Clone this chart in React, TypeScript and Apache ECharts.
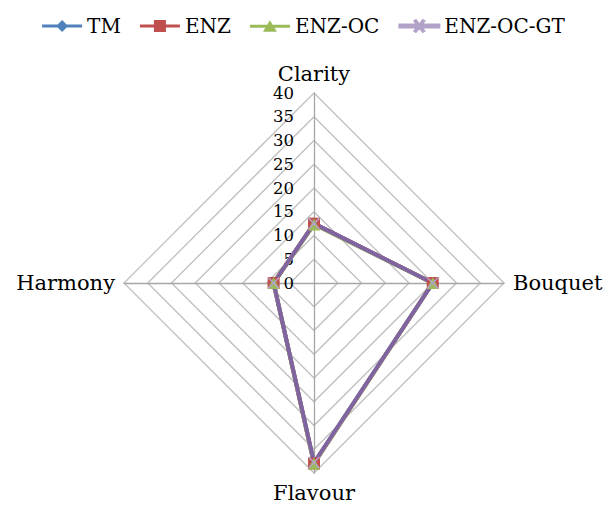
import React, { useEffect, useRef } from "react";
import * as echarts from "echarts";

const categories = ["Clarity", "Harmony", "Flavour", "Bouquet"];
const seriesNames = ["TM", "ENZ", "ENZ-OC", "ENZ-OC-GT"];
const tmValues = [12.5, 8.5, 38, 25];
const enzValues = [12.5, 8.5, 38, 25];
const enzOcValues = [12.3, 8.5, 38, 25];
const enzOcGtValues = [12.5, 8.5, 37.8, 25];
const axisMax = 40;
const tickInterval = 5;

const colors = ["#4F81BD", "#C0504D", "#9BBB59", "#8064A2"];
const serif = "DejaVu Serif";

const legendIcons = [
  "path://M0,4.6h40v2.8h-40z M20,0L26,6L20,12L14,6z",
  "path://M0,4.6h40v2.8h-40z M14,0h12v12h-12z",
  "path://M0,4.6h40v2.8h-40z M20,0L27,11.5L13,11.5z",
  "path://M0,4.6h40v2.8h-40z M15,1L16.5,0L20,4.5L23.5,0L25,1L21.5,6L25,11L23.5,12L20,7.5L16.5,12L15,11L18.5,6z",
];
const symbols = [
  "diamond",
  "rect",
  "triangle",
  "path://M0,0L10,10M10,0L0,10",
];

export default function App() {
  const ref = useRef<HTMLDivElement>(null);
  useEffect(() => {
    if (!ref.current) return;
    const chart = echarts.init(ref.current, undefined, { renderer: "svg" });
    const allValues = [tmValues, enzValues, enzOcValues, enzOcGtValues];
    const cx = 314;
    const cy = 283;
    const r = 190;
    chart.setOption({
      animation: false,
      backgroundColor: "#ffffff",
      legend: {
        top: 11,
        left: "center",
        itemWidth: 40,
        itemHeight: 12,
        itemGap: 19,
        textStyle: { fontFamily: serif, fontSize: 20, color: "#000" },
        data: seriesNames.map((n, i) => ({ name: n, icon: legendIcons[i] })),
      },
      radar: {
        center: [cx, cy],
        radius: r,
        startAngle: 90,
        shape: "polygon",
        splitNumber: axisMax / tickInterval,
        nameGap: 9,
        axisName: { color: "#000", fontFamily: serif, fontSize: 21 },
        indicator: categories.map((c) => ({ name: c, min: 0, max: axisMax })),
        axisLine: { lineStyle: { color: "#A6A6A6", width: 1.3 } },
        splitLine: { lineStyle: { color: "#BFBFBF", width: 1.3 } },
        splitArea: { show: false },
        axisTick: { show: false },
        axisLabel: { show: false },
      },
      grid: { left: cx, top: cy - r, height: r, width: 1, containLabel: false },
      xAxis: { type: "value", show: false },
      yAxis: {
        type: "value",
        min: 0,
        max: axisMax,
        interval: tickInterval,
        axisLine: { show: false },
        axisTick: { show: false },
        splitLine: { show: false },
        axisLabel: { margin: 20, fontFamily: serif, fontSize: 16.5, color: "#000" },
      },
      series: seriesNames.map((n, i) => ({
        name: n,
        type: "radar",
        symbol: symbols[i],
        symbolSize: i === 3 ? 11 : 12,
        lineStyle: { color: colors[i], width: 4 },
        itemStyle:
          i === 3
            ? { color: "#B3A2C7", borderColor: "#B3A2C7", borderWidth: 1.5 }
            : { color: colors[i] },
        data: [{ value: allValues[i], name: n }],
      })),
    });
    return () => chart.dispose();
  }, []);
  return (
    <div
      ref={ref}
      style={{ position: "fixed", left: 0, top: 0, width: 607, height: 509 }}
    />
  );
}
